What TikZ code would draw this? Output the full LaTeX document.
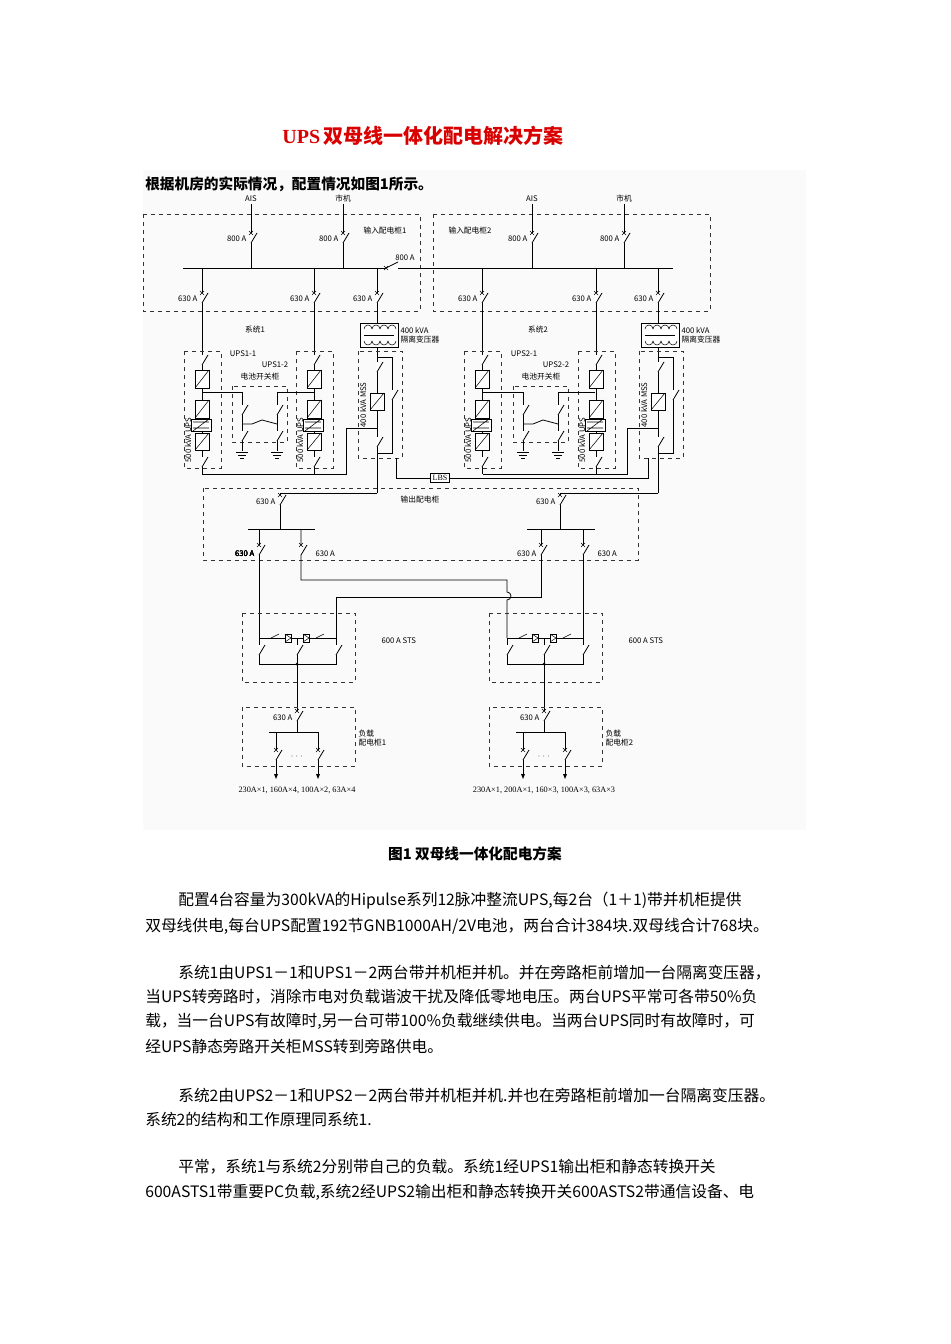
\documentclass[tikz,border=0pt]{standalone}
\usepackage{fontspec}
\setmainfont{Noto Sans CJK SC}
\newfontfamily\serif{Liberation Serif}
\begin{document}
\begin{tikzpicture}[x=0.75pt,y=-0.75pt,
 wire/.style={line width=0.6pt},
 dbox/.style={dashed,line width=0.5pt,draw=black!80},
 lbl/.style={font=\fontsize{5.8}{6.5}\selectfont,inner sep=1pt},
 body/.style={anchor=west,font=\fontsize{11.8}{13}\selectfont,inner sep=0pt}]
\useasboundingbox (0,0) rectangle (950,1344);
\fill[black!2] (143,170) rectangle (806,830);
\newcommand\brk[2]{\fill[white] (#1-1.5,#2-5) rectangle (#1+1.5,#2+5);
 \draw[wire] (#1,#2+5) -- (#1+6,#2-5);
 \draw[line width=0.4pt] (#1-2,#2-7)--(#1+2,#2-3) (#1-2,#2-3)--(#1+2,#2-7);}
\newcommand\sw[2]{\fill[white] (#1-1.5,#2-5) rectangle (#1+1.5,#2+5);
 \draw[wire] (#1,#2+5) -- (#1+6,#2-5);}
\newcommand\conv[3]{\draw[wire,fill=white] (#1-7,#2) rectangle (#1+7,#2+#3); \draw[line width=0.4pt] (#1-7,#2+#3) -- (#1+7,#2);}
\newcommand\gnd[2]{\draw[wire] (#1-6,#2)--(#1+6,#2) (#1-4,#2+3)--(#1+4,#2+3) (#1-2,#2+6)--(#1+2,#2+6);}
% title and text
\node[font=\serif\bfseries\fontsize{15}{18}\selectfont,text=red!85!black] (title) at (423,136) {UPS\,\normalfont\bfseries 双母线一体化配电解决方案};
\node[body,font=\bfseries\fontsize{11}{13}\selectfont] (intro) at (145,184) {根据机房的实际情况，配置情况如图1所示。};
% ---------- input cabinets ----------
\draw[dbox] (143,214) rectangle (420,311);
\draw[dbox] (433,214) rectangle (710,311);
\node[lbl] at (385,231) {输入配电柜1};
\node[lbl] at (470,231) {输入配电柜2};
\foreach \x/\n in {251/AIS,343/市机,532/AIS,624/市机}{
 \node[lbl] at (\x,199) {\n};
 \draw[wire] (\x,204)--(\x,268);
 \brk{\x}{238}
 \node[lbl,anchor=east] at (\x-3,239) {800 A};}
\draw[wire] (183,268)--(673,268);
\fill[white] (386,266) rectangle (398,270);
\draw[wire] (386,268)--(398,262);
\draw[line width=0.4pt] (384,266)--(388,270) (384,270)--(388,266);
\node[lbl] at (405,258) {800 A};
\foreach \x in {202,314,377,482,596,658}{
 \draw[wire] (\x,268)--(\x,323);
 \brk{\x}{298}
 \node[lbl,anchor=east] at (\x-3,299) {630 A};}
\node[lbl] at (255,330) {系统1};
\node[lbl] at (538,330) {系统2};
% ---------- UPS columns ----------
\foreach \x in {202,314,482,596}{
 \draw[wire] (\x,311)--(\x,474);
 \sw{\x}{360}
 \conv{\x}{370}{18}
 \conv{\x}{400}{18}
 \draw[wire,fill=white] (\x-11,419) rectangle (\x+9,431);
 \draw[line width=0.4pt] (\x-9,422)--(\x+7,422) (\x-9,428)--(\x+7,428) (\x-9,431)--(\x+7,419);
 \conv{\x}{433}{17}
 \sw{\x}{462}
 \draw[dbox] (\x-18,351) rectangle (\x+19,468);
 \node[lbl,rotate=90] at (\x-14,440) {500 kVA UPS};}
\node[lbl] at (243,354) {UPS1-1};
\node[lbl] at (275,365) {UPS1-2};
\node[lbl] at (524,354) {UPS2-1};
\node[lbl] at (556,365) {UPS2-2};
\node[lbl] at (260,377) {电池开关柜};
\node[lbl] at (541,377) {电池开关柜};
% battery cabinets
\foreach \o in {0,281}{
 \draw[dbox] (232+\o,386) rectangle (287+\o,442);
 \draw[wire] (202+\o,392)--(242+\o,392)--(242+\o,451);
 \draw[wire] (314+\o,392)--(277+\o,392)--(277+\o,451);
 \sw{242+\o}{410} \sw{277+\o}{410}
 \sw{242+\o}{436} \sw{277+\o}{436}
 \draw[wire] (242+\o,424)--(252+\o,424)--(262+\o,420)--(277+\o,424);
 \gnd{242+\o}{452} \gnd{277+\o}{452}}
% ---------- MSS ----------
\foreach \x/\b in {377/346,658/627}{
 \draw[wire,fill=white] (\x-17,323) rectangle (\x+21,347);
 \foreach \i in {0,...,3}{\draw[line width=0.4pt] (\x-13+8*\i,329) arc (180:360:4);
  \draw[line width=0.4pt] (\x-13+8*\i,341) arc (180:0:4);}
 \draw[line width=0.4pt] (\x-13,335)--(\x+17,335);
 \node[lbl,anchor=west,align=left] at (\x+22,335) {400 kVA\\隔离变压器};
 \draw[wire] (\x,347)--(\x,493);
 \draw[wire] (\x,357)--(\x+15,357)--(\x+15,453)--(\x,453);
 \sw{\x}{367} \sw{\x+15}{395} \sw{\x}{442}
 \conv{\x}{393}{17}
 \draw[dbox] (\x-19,351) rectangle (\x+25,458);
 \node[lbl,rotate=90] at (\x-14,405) {400 kVA MSS};
 \draw[wire] (\x-175,474)--(\b,474)--(\b,428)--(\x,428);}
% LBS
\node[draw,wire,fill=white,font=\serif\fontsize{6}{7}\selectfont,inner sep=1.5pt] (lbs) at (440,478) {LBS};
\draw[wire] (lbs.west) -| (396,458);
\draw[wire] (lbs.east) -| (648,458);
% ---------- output cabinet ----------
\draw[dbox] (203,488) rectangle (638,560);
\node[lbl] at (420,500) {输出配电柜};
\draw[wire] (377,493)--(280,493)--(280,529);
\draw[wire] (658,493)--(560,493)--(560,529);
\brk{280}{500} \node[lbl,anchor=east] at (277,502) {630 A};
\brk{560}{500} \node[lbl,anchor=east] at (557,502) {630 A};
\draw[wire] (248,529)--(315,529) (527,529)--(595,529);
\draw[wire] (259,529)--(259,638);
\draw[wire] (301,529)--(301,580)--(507,580)--(507,592) arc (-90:90:4) -- (507,638);
\draw[wire] (541,529)--(541,597)--(336,597)--(336,638);
\draw[wire] (583,529)--(583,638);
\foreach \x in {259,301,541,583} \brk{\x}{550}
\node[lbl,anchor=east] at (256,554) {630 A};
\node[lbl,anchor=west] at (314,554) {630 A};
\node[lbl,anchor=east] at (538,554) {630 A};
\node[lbl,anchor=west] at (596,554) {630 A};
% ---------- STS + loads ----------
\foreach \l/\r/\c/\n/\t in {259/336/297/1/{230A×1, 160A×4, 100A×2, 63A×4},507/583/544/2/{230A×1, 200A×1, 160×3, 100A×3, 63A×3}}{
 \draw[dbox] (\c-55,613) rectangle (\c+58,682);
 \node[lbl,anchor=west] at (\c+83,641) {600 A STS};
 \draw[wire] (\l,638)--(\r,638);
 \draw[wire] (\l,638)--(\l,664)--(\r,664)--(\r,638);
 \draw[wire] (\c,638)--(\c,732);
 \sw{\l}{650} \sw{\r}{650} \sw{\c}{650}
 \foreach \d in {-9,9}{\draw[fill=white,line width=0.4pt] (\c+\d-3,634) rectangle (\c+\d+3,642);
  \draw[line width=0.4pt] (\c+\d-3,634)--(\c+\d+3,638)--(\c+\d-3,642);}
 \draw[line width=0.4pt] (\l+12,638)--(\l+20,634) (\r-20,638)--(\r-12,634);
 \fill (\c,664) circle (1.5);
 \draw[dbox] (\c-55,707) rectangle (\c+58,766);
 \brk{\c}{716} \node[lbl,anchor=east] at (\c-3,718) {630 A};
 \node[lbl,anchor=west,align=left] at (\c+60,738) {负载\\配电柜\n};
 \draw[wire] (\c-28,732)--(\c+21,732);
 \foreach \f in {-21,21}{\draw[wire] (\c+\f,732)--(\c+\f,777);
  \brk{\c+\f}{755}
  \fill (\c+\f-2,774)--(\c+\f+2,774)--(\c+\f,779)--cycle;}
 \node[lbl] at (\c,757) {$\cdots$};
 \node[lbl,font=\serif\fontsize{6.2}{7}\selectfont] at (\c,790) {\t};}
% ---------- caption + body ----------
\node[font=\bfseries\fontsize{11}{13}\selectfont] (cap) at (475,854) {图1 双母线一体化配电方案};
\node[body] at (178,901) {配置4台容量为300kVA的Hipulse系列12脉冲整流UPS,每2台（1＋1)带并机柜提供};
\node[body] at (145,926) {双母线供电,每台UPS配置192节GNB1000AH/2V电池，两台合计384块.双母线合计768块。};
\node[body] at (178,973) {系统1由UPS1－1和UPS1－2两台带并机柜并机。并在旁路柜前增加一台隔离变压器，};
\node[body] at (145,997) {当UPS转旁路时，消除市电对负载谐波干扰及降低零地电压。两台UPS平常可各带50\%负};
\node[body] at (145,1021) {载，当一台UPS有故障时,另一台可带100\%负载继续供电。当两台UPS同时有故障时，可};
\node[body] at (145,1046) {经UPS静态旁路开关柜MSS转到旁路供电。};
\node[body] at (178,1095) {系统2由UPS2－1和UPS2－2两台带并机柜并机.并也在旁路柜前增加一台隔离变压器。};
\node[body] at (145,1119) {系统2的结构和工作原理同系统1.};
\node[body] at (178,1167) {平常，系统1与系统2分别带自己的负载。系统1经UPS1输出柜和静态转换开关};
\node[body] at (145,1192) {600ASTS1带重要PC负载,系统2经UPS2输出柜和静态转换开关600ASTS2带通信设备、电};
\end{tikzpicture}
\end{document}
